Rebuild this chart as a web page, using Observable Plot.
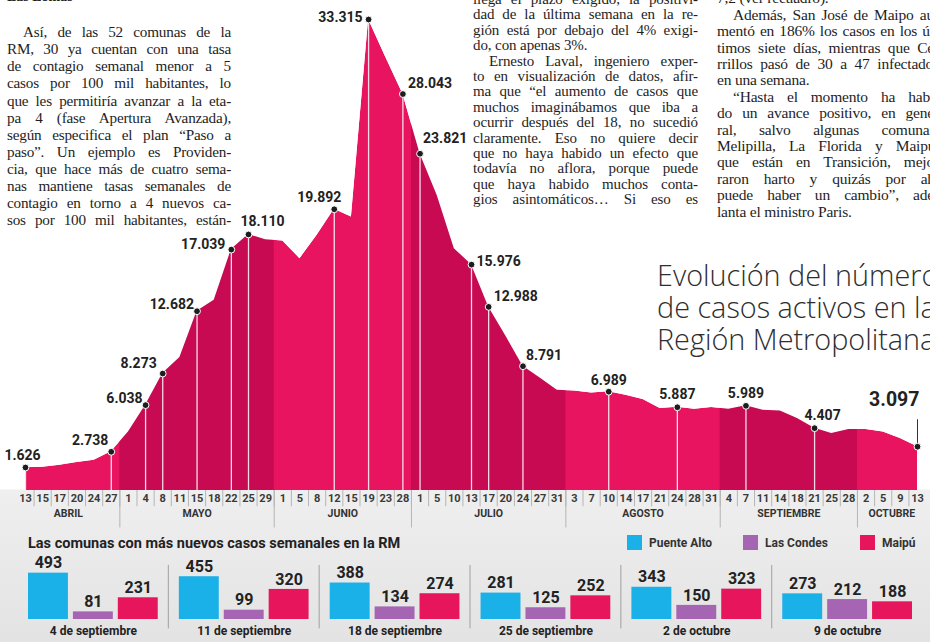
<!DOCTYPE html>
<html><head><meta charset="utf-8">
<script src="https://cdn.jsdelivr.net/npm/d3@7"></script>
<script src="https://cdn.jsdelivr.net/npm/@observablehq/plot@0.6"></script>
<style>
body{margin:0;background:#fff}
#wrap{position:relative;width:930px;height:642px;overflow:hidden;
  background:linear-gradient(to bottom,#fff 0px,#fff 489px,#efefef 490px,#e3e3e3 642px);
  font-family:Roboto,"Liberation Sans",sans-serif}
#wrap svg{position:absolute;left:0}
.txt{position:absolute;z-index:3;font-family:"Liberation Serif",serif;color:#1e1e1e}
.ln{position:absolute;white-space:nowrap;text-align:justify;text-align-last:justify}
.ln.last{text-align-last:left}
.title{position:absolute;z-index:3;left:657px;font-family:"Open Sans",sans-serif;font-weight:300;font-size:28.8px;line-height:29px;color:#2e2e2e;white-space:nowrap}
.sub{position:absolute;z-index:3;left:28px;top:535px;font-weight:700;font-size:14.5px;color:#222;white-space:nowrap}
.lg{position:absolute;z-index:3;top:535px;height:15px;display:flex;align-items:center;font-weight:700;font-size:12px;color:#333;white-space:nowrap}
.lg i{display:inline-block;width:15px;height:15px;margin-right:7px}
</style></head>
<body>
<div id="wrap"></div>
<script>
// ---------- DATA ----------
const dayLabels = ["13","15","17","20","24","27",
  "1","4","8","11","15","18","22","25","29",
  "1","5","8","12","15","19","23","28",
  "1","5","10","13","17","20","24","27","31",
  "3","7","10","14","17","21","24","28","31",
  "4","7","11","14","18","21","25","28",
  "2","5","9","13"];
const months = ["ABRIL","MAYO","JUNIO","JULIO","AGOSTO","SEPTIEMBRE","OCTUBRE"];
const monthTickCounts = [6,9,8,9,9,8,4];
const activeCases = [1626,1640,1790,1980,2140,2738,
  4140,6038,8273,9400,12682,13450,17039,18110,17740,
  17650,16400,18050,19892,19340,33315,30650,28043,
  23821,20870,17100,15976,12988,10930,8791,7960,7090,
  7040,6900,6989,6740,6430,5800,5887,5750,5870,
  5750,5989,5680,5630,5090,4407,4030,4310,
  4310,4140,3670,3097];
const labeledTicks = [0,5,7,8,10,12,13,18,20,22,23,26,27,29,34,38,42,46,52];

const weeks = ["4 de septiembre","11 de septiembre","18 de septiembre","25 de septiembre","2 de octubre","9 de octubre"];
const communes = ["Puente Alto","Las Condes","Maipú"];
const puenteAlto = [493,455,388,281,343,273];
const lasCondes = [81,99,134,125,150,212];
const maipu = [231,320,274,252,323,188];

const titleLines = ["Evolución del número","de casos activos en la","Región Metropolitana"];
const subtitle = "Las comunas con más nuevos casos semanales en la RM";

const col1 = ["Así, de las 52 comunas de la","RM, 30 ya cuentan con una tasa","de contagio semanal menor a 5",
  "casos por 100 mil habitantes, lo","que les permitiría avanzar a la eta-","pa 4 (fase Apertura Avanzada),",
  "según especifica el plan “Paso a","paso”. Un ejemplo es Providen-","cia, que hace más de cuatro sema-",
  "nas mantiene tasas semanales de","contagio en torno a 4 nuevos ca-","sos por 100 mil habitantes, están-"];
const col2 = ["llega el plazo exigido, la positivi-","dad de la última semana en la re-","gión está por debajo del 4% exigi-","do, con apenas 3%.",
  "Ernesto Laval, ingeniero exper-","to en visualización de datos, afir-","ma que “el aumento de casos que",
  "muchos imaginábamos que iba a","ocurrir después del 18, no sucedió","claramente. Eso no quiere decir",
  "que no haya habido un efecto que","todavía no aflora, porque puede","que haya habido muchos conta-",
  "gios asintomáticos… Si eso es"];
const col3 = ["7,2 (ver recuadro).","Además, San José de Maipo au-","mentó en 186% los casos en los úl-","timos siete días, mientras que Ce-",
  "rrillos pasó de 30 a 47 infectados","en una semana.","“Hasta el momento ha habi-",
  "do un avance positivo, en gene-","ral, salvo algunas comunas.","Melipilla, La Florida y Maipú,",
  "que están en Transición, mejo-","raron harto y quizás por ahí","puede haber un cambio”, ade-",
  "lanta el ministro Paris."];

// ---------- STYLE / LAYOUT ----------
const LIGHT = "#e8145f", DARK = "#c70a51";
const fmt = d3.formatLocale({decimal:",", thousands:".", grouping:[3], currency:["$",""]}).format(",d");
const wrap = document.getElementById("wrap");

function column(lines, cfg){
  const box = document.createElement("div");
  box.className = "txt";
  box.style.cssText = `left:${cfg.left}px;top:0;width:${cfg.width}px;font-size:${cfg.size}px;letter-spacing:${cfg.ls}px;`;
  lines.forEach((t,k)=>{
    const d = document.createElement("div");
    const indent = cfg.indent.includes(k) ? 16 : 0;
    d.className = "ln" + (cfg.last.includes(k) ? " last" : "");
    d.style.cssText = `left:${indent}px;width:${cfg.width-indent}px;top:${cfg.top + cfg.step*k - cfg.step/2}px;line-height:${cfg.step}px;`;
    d.textContent = t;
    box.appendChild(d);
  });
  wrap.appendChild(box);
}

// ---------- MAIN AREA CHART ----------
const N = activeCases.length;
const idx = d3.range(N);
const YMAX = 34660;
const pxPerUnit = 490 / YMAX;
let s = 0;
const monthSpans = months.map((m,k)=>{const start=s; s+=monthTickCounts[k]; return {name:m,start,end:s-1,dark:k%2===1};});
const boundaries = monthSpans.slice(1).map(d=>d.start-0.5);

const place = {0:["middle",-3,-12],5:["end",-3,-11],7:["end",-3,-7],8:["end",-6,-10],10:["end",-3,-7],
  12:["end",-6,-5],13:["middle",14,-13],18:["middle",-15,-12],20:["end",-6,-2],22:["start",5,-11],
  23:["start",3,-15],26:["start",5,-3],27:["start",5,-10],29:["start",3,-11],34:["middle",0,-11],
  38:["middle",0,-13],42:["middle",0,-12],46:["middle",8,-13],52:["end",2,-47]};

const labelMarks = labeledTicks.map(i=>Plot.text([i],{x:d=>d,y:d=>activeCases[d],text:d=>fmt(activeCases[d]),
  textAnchor:place[i][0],dx:place[i][1],dy:place[i][2],fontSize:i===52?19.5:14,fontWeight:"bold",fill:"#222"}));

const main = Plot.plot({
  width:930, height:530, marginLeft:25, marginRight:13, marginTop:0, marginBottom:40,
  style:{background:"transparent", fontFamily:"Roboto, sans-serif", color:"#3a3a3a", overflow:"visible"},
  x:{domain:[0,N-1]},
  y:{domain:[0,YMAX], axis:null},
  marks:[
    Plot.areaY(idx,{x:i=>i,y:i=>activeCases[i],fill:LIGHT}),
    Plot.rect(monthSpans.filter(d=>d.dark),{x1:d=>d.start-0.5,x2:d=>d.end+0.5,y1:0,y2:YMAX,fill:DARK}),
    Plot.areaY(idx,{x:i=>i,y1:i=>activeCases[i],y2:YMAX,fill:"white"}),
    Plot.ruleX(labeledTicks.filter(i=>i!==N-1),{x:i=>i,y1:0,y2:i=>activeCases[i],stroke:"white",strokeOpacity:0.85,strokeWidth:1.3}),
    Plot.ruleX([N-1],{x:i=>i,y1:i=>activeCases[i],y2:i=>activeCases[i]+27/pxPerUnit,stroke:"#333",strokeWidth:1}),
    Plot.dot(labeledTicks,{x:i=>i,y:i=>activeCases[i],r:3.4,fill:"#1d1d1d",stroke:"white",strokeWidth:1}),
    ...labelMarks,
    Plot.ruleX(idx.slice(0,-1).map(i=>i+0.5),{x:d=>d,y1:0,y2:-1150,stroke:"#b5b5b5"}),
    Plot.ruleX(boundaries,{x:d=>d,y1:0,y2:-2650,stroke:"#b5b5b5"}),
    Plot.axisX({ticks:idx,tickFormat:i=>dayLabels[i],tickSize:0,tickPadding:4,fontSize:11,fontWeight:"bold",label:null}),
    Plot.text(monthSpans,{x:d=>(d.start+d.end)/2,frameAnchor:"bottom",dy:26,text:"name",fontSize:10.5,fontWeight:"bold",fill:"#333"})
  ]
});
main.style.top = "0px";
wrap.appendChild(main);

// ---------- BOTTOM GROUPED BARS ----------
const rows = weeks.flatMap((w,k)=>[
  {week:w,commune:communes[0],value:puenteAlto[k]},
  {week:w,commune:communes[1],value:lasCondes[k]},
  {week:w,commune:communes[2],value:maipu[k]}]);
const colors = ["#1ab0e8","#a565b2","#e6155c"];
const bars = Plot.plot({
  width:930, height:87, marginLeft:28, marginRight:18, marginTop:17, marginBottom:23,
  style:{background:"transparent", fontFamily:"Roboto, sans-serif", color:"#222", overflow:"visible"},
  fx:{domain:weeks, paddingInner:0.14, paddingOuter:0, round:false},
  x:{domain:communes, paddingInner:0.111, paddingOuter:0, round:false, axis:null},
  y:{domain:[0,500], axis:null},
  color:{domain:communes, range:colors},
  marks:[
    Plot.barY(rows,{fx:"week",x:"commune",y:"value",fill:"commune"}),
    Plot.text(rows,{fx:"week",x:"commune",y:"value",text:d=>String(d.value),dy:-10,fontSize:16,fontWeight:"bold",fill:"#222"}),
    Plot.ruleX(weeks.slice(1),{fx:d=>d,x:()=>communes[0],dx:-31,y1:-100,y2:575,stroke:"#a0a0a0"}),
    Plot.axisFx({anchor:"bottom",tickSize:0,tickPadding:7,fontSize:12,fontWeight:"bold",label:null})
  ]
});
bars.style.top = "555px";
wrap.appendChild(bars);

// ---------- TEXTS ----------
column(col1,{left:7,width:224,top:31.7,step:17.1,size:15.2,ls:-0.2,indent:[0],last:[]});
column(col2,{left:473,width:225,top:-0.4,step:15.4,size:15,ls:-0.1,indent:[4],last:[3]});
column(col3,{left:717,width:222,top:-1.4,step:16.4,size:15.5,ls:-0.2,indent:[1,6],last:[0,5,13]});
const lasL = document.createElement("div");
lasL.className="txt"; lasL.style.cssText="left:7px;top:-11px;font-size:14px;font-weight:bold;";
lasL.textContent="Las Lomas"; wrap.appendChild(lasL);

titleLines.forEach((line,k)=>{
  const t = document.createElement("div");
  t.className="title"; t.style.top = (260 + 32*k) + "px"; t.textContent = line; wrap.appendChild(t);
});
const sb = document.createElement("div");
sb.className="sub"; sb.textContent = subtitle; wrap.appendChild(sb);
const lgX = [627,743,860];
communes.forEach((c,k)=>{
  const d=document.createElement("div"); d.className="lg"; d.style.left=lgX[k]+"px";
  d.innerHTML=`<i style="background:${colors[k]}"></i>${c}`; wrap.appendChild(d);
});
</script>
</body></html>
